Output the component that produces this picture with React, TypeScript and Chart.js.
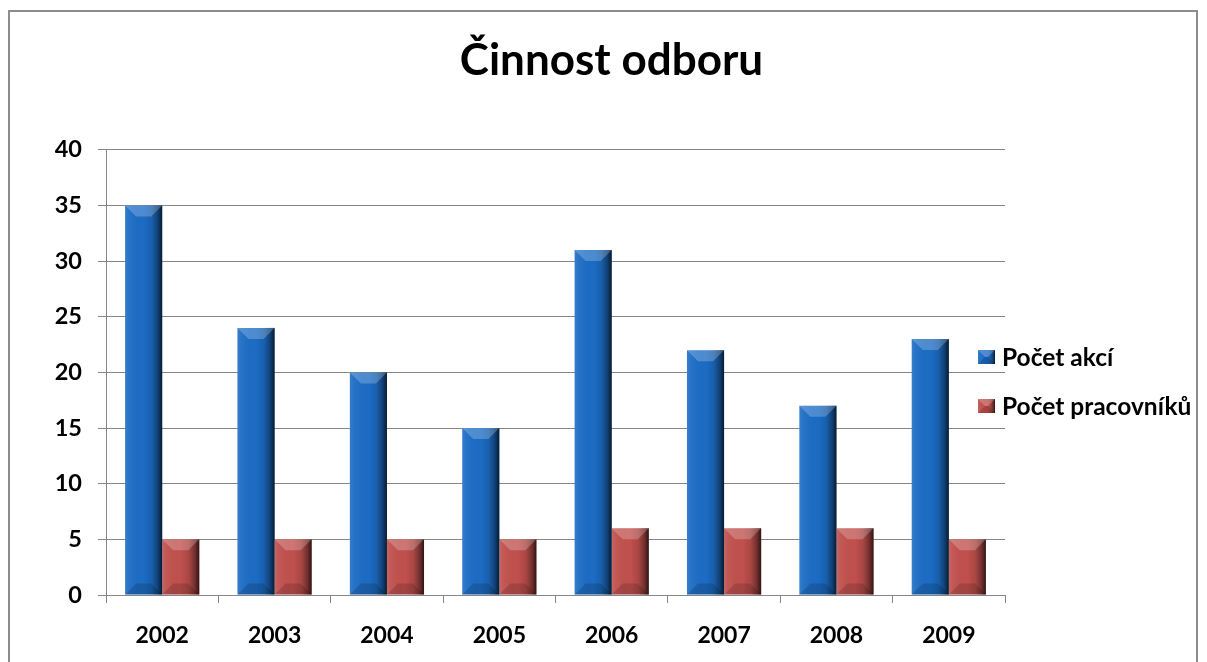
import React, { useEffect, useRef } from "react";
import { Chart, registerables } from "chart.js";

Chart.register(...registerables);

const categories = ["2002", "2003", "2004", "2005", "2006", "2007", "2008", "2009"];
const seriesNames = ["Počet akcí", "Počet pracovníků"];
const akce = [35, 24, 20, 15, 31, 22, 17, 23];
const pracovnici = [5, 5, 5, 5, 6, 6, 6, 5];
const titleText = "Činnost odboru";
const baseColors = ["#1c6cc4", "#c0504d"];
const FONT = "Lato, 'Open Sans', sans-serif";

function shadeBox(ctx: CanvasRenderingContext2D, left: number, top: number, right: number, bottom: number, bevel: number) {
  const w = right - left;
  const h = bottom - top;
  if (w <= 0 || h <= 0) return;
  const g = ctx.createLinearGradient(left, 0, right, 0);
  g.addColorStop(0, "rgba(255,255,255,0.12)");
  g.addColorStop(0.1, "rgba(255,255,255,0.05)");
  g.addColorStop(0.5, "rgba(0,0,0,0)");
  g.addColorStop(0.72, "rgba(0,0,0,0.12)");
  g.addColorStop(0.88, "rgba(0,0,0,0.4)");
  g.addColorStop(1, "rgba(0,0,0,0.75)");
  ctx.fillStyle = g;
  ctx.fillRect(left, top, w, h);
  const d = Math.min(bevel, w / 2, h / 2);
  ctx.beginPath();
  ctx.moveTo(left, top);
  ctx.lineTo(right, top);
  ctx.lineTo(right - d, top + d);
  ctx.lineTo(left + d, top + d);
  ctx.closePath();
  ctx.fillStyle = "rgba(255,255,255,0.22)";
  ctx.fill();
  ctx.beginPath();
  ctx.moveTo(left, bottom);
  ctx.lineTo(right, bottom);
  ctx.lineTo(right - d, bottom - d);
  ctx.lineTo(left + d, bottom - d);
  ctx.closePath();
  ctx.fillStyle = "rgba(0,0,0,0.15)";
  ctx.fill();
}

const bevelPlugin = {
  id: "bevelBars",
  afterDatasetsDraw(chart: any) {
    const ctx = chart.ctx as CanvasRenderingContext2D;
    ctx.save();
    chart.data.datasets.forEach((_ds: any, i: number) => {
      const meta = chart.getDatasetMeta(i);
      meta.data.forEach((el: any) => {
        const left = el.x - el.width / 2;
        const right = el.x + el.width / 2;
        const top = Math.min(el.y, el.base);
        const bottom = Math.max(el.y, el.base);
        shadeBox(ctx, left, top, right, bottom, 11);
      });
    });
    ctx.restore();
  },
};

const legendPlugin = {
  id: "overlayLegend",
  afterDraw(chart: any) {
    const ctx = chart.ctx as CanvasRenderingContext2D;
    ctx.save();
    const x0 = 978;
    const ys = [357, 406];
    chart.data.datasets.forEach((ds: any, i: number) => {
      const y = ys[i];
      ctx.fillStyle = ds.backgroundColor;
      ctx.fillRect(x0, y - 7, 17, 14);
      shadeBox(ctx, x0, y - 7, x0 + 17, y + 7, 7);
      ctx.fillStyle = "#000";
      ctx.font = `bold 24.5px ${FONT}`;
      ctx.textBaseline = "middle";
      ctx.textAlign = "left";
      ctx.fillText(ds.label, x0 + 24, y + 1);
    });
    ctx.restore();
  },
};

export default function App() {
  const canvasRef = useRef<HTMLCanvasElement | null>(null);

  useEffect(() => {
    const canvas = canvasRef.current;
    if (!canvas) return;
    const gridColor = "#868686";
    const chart = new Chart(canvas, {
      type: "bar",
      data: {
        labels: categories,
        datasets: [
          { label: seriesNames[0], data: akce, backgroundColor: baseColors[0], borderWidth: 0 },
          { label: seriesNames[1], data: pracovnici, backgroundColor: baseColors[1], borderWidth: 0 },
        ],
      },
      options: {
        animation: false,
        responsive: true,
        maintainAspectRatio: false,
        layout: { padding: { left: 16, right: 0, top: 0, bottom: 0 } },
        datasets: { bar: { categoryPercentage: 0.66, barPercentage: 1 } },
        plugins: {
          legend: { display: false },
          tooltip: { enabled: false },
          title: {
            display: true,
            text: titleText,
            color: "#000",
            font: { family: FONT, size: 44, weight: "bold" },
            padding: { top: 34, bottom: 63 },
          },
        },
        scales: {
          x: {
            offset: true,
            grid: {
              display: true,
              offset: true,
              drawOnChartArea: false,
              drawTicks: true,
              tickLength: 8,
              color: gridColor,
              lineWidth: 1,
            },
            border: { display: true, color: gridColor, width: 1 },
            ticks: {
              color: "#000",
              font: { family: FONT, size: 23, weight: "bold" },
              padding: 19,
              maxRotation: 0,
            },
            afterFit(scale: any) {
              scale.height = 67;
            },
          },
          y: {
            min: 0,
            max: 40,
            ticks: {
              stepSize: 5,
              color: "#000",
              font: { family: FONT, size: 23.5, weight: "bold" },
              padding: 16,
            },
            grid: {
              color: gridColor,
              lineWidth: 1,
              drawTicks: true,
              tickLength: 8,
            },
            border: { display: true, color: gridColor, width: 1 },
            afterFit(scale: any) {
              scale.width = 90;
            },
          },
          legendSpace: {
            type: "linear",
            position: "right",
            display: true,
            grid: { display: false, drawTicks: false },
            ticks: { display: false },
            border: { display: false },
            afterFit(scale: any) {
              scale.width = 202;
            },
          },
        },
      },
      plugins: [bevelPlugin, legendPlugin],
    });
    return () => chart.destroy();
  }, []);

  return (
    <div
      style={{
        position: "fixed",
        left: 0,
        top: 0,
        width: 1207,
        height: 662,
        overflow: "hidden",
        background: "#fff",
      }}
    >
      <div style={{ position: "absolute", left: 0, top: 0, width: 1207, height: 662 }}>
        <canvas ref={canvasRef} />
      </div>
      <div
        style={{
          position: "absolute",
          left: 8,
          top: 10,
          width: 1190,
          height: 700,
          border: "2px solid #8c8c8c",
          boxSizing: "border-box",
          pointerEvents: "none",
        }}
      />
    </div>
  );
}
